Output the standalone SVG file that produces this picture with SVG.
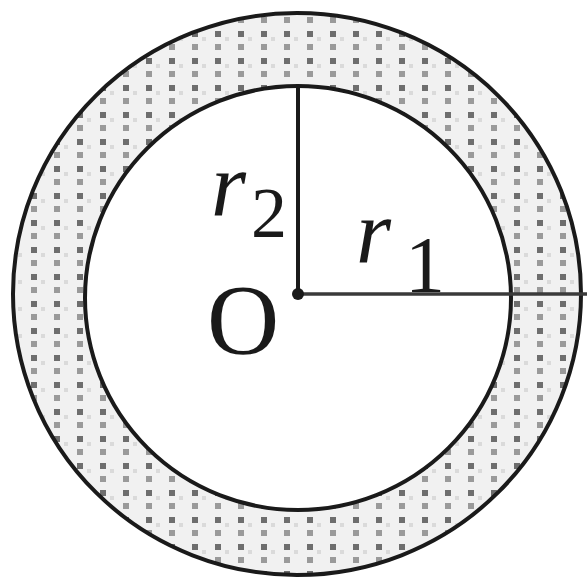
<svg xmlns="http://www.w3.org/2000/svg" width="587" height="578" viewBox="0 0 587 578">
<style>
.ring{stroke:#1a1a1a;stroke-width:4}
.lbl{font-family:"Liberation Serif","Times New Roman",serif;fill:#1a1a1a}
.it{font-style:italic}
</style>
<defs>
<pattern id="dots" patternUnits="userSpaceOnUse" width="23" height="27" x="2" y="0">
<rect width="23" height="27" fill="#f1f1f1"/>
<rect x="6" y="4" width="6" height="6" fill="#6e6e6e"/>
<rect x="6" y="17" width="6" height="6" fill="#9a9a9a"/>
<rect x="16" y="10" width="4" height="4" fill="#dadada"/>
</pattern>
</defs>
<rect width="587" height="578" fill="#fff"/>
<g id="outer">
<ellipse cx="297" cy="294" rx="284" ry="281" fill="url(#dots)" class="ring"/>
</g>
<g id="inner">
<ellipse cx="298" cy="298" rx="213" ry="212" fill="#fff" class="ring" stroke-width="3.5"/>
</g>
<g id="connectors">
<line x1="298" y1="86" x2="298" y2="294" stroke="#1a1a1a" stroke-width="4"/>
<line x1="298" y1="294" x2="587" y2="294" stroke="#3a3a3a" stroke-width="3.5"/>
<circle cx="298" cy="294" r="6" fill="#1a1a1a"/>
</g>
<g id="labels">
<text class="lbl it" x="211" y="215" font-size="90">r</text>
<text class="lbl" x="251" y="237" font-size="72">2</text>
<text class="lbl it" x="356" y="262" font-size="90">r</text>
<text class="lbl" x="405" y="292" font-size="80">1</text>
<text class="lbl" x="243" y="353" font-size="100" text-anchor="middle">O</text>
</g>
</svg>
